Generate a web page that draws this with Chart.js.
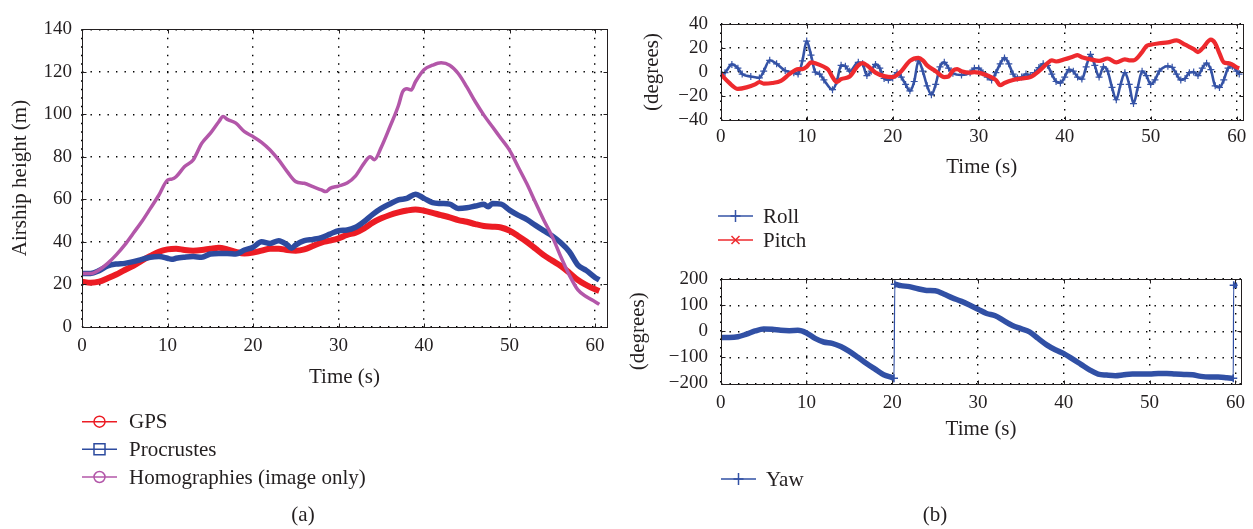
<!DOCTYPE html>
<html><head><meta charset="utf-8">
<script src="https://cdn.jsdelivr.net/npm/chart.js@4.4.1/dist/chart.umd.min.js"></script>
<style>
html,body{margin:0;padding:0;background:#fff;width:1253px;height:529px;overflow:hidden;}
canvas{position:absolute;}
#cA{left:0;top:0;} #cB{left:620px;top:0;} #cY{left:620px;top:255px;}
</style></head><body>
<canvas id="cA" width="620" height="529"></canvas>
<canvas id="cB" width="633" height="255"></canvas>
<canvas id="cY" width="633" height="274"></canvas>
<script>
// ---------- Data: panel (a) airship height ----------
const gpsT = [0,1,2,3,4,5,6,7,8,9,10,11,12,13,14,15,16,17,18,19,20,21,22,23,24,25,26,27,28,29,30,31,32,33,34,35,36,37,38,39,40,41,42,43,44,45,46,47,48,49,50,51,52,53,54,55,56,57,58,59,60,60.5];
const gpsV = [21.2,20.7,21.2,22.8,24.6,26.7,28.6,31.1,33.3,35.3,36.4,36.7,36.1,35.8,36.1,36.7,37.2,36.4,35.2,34.5,34.9,35.8,36.7,36.7,36.1,35.8,36.4,38,39.6,40.5,41.6,43.2,44.3,46.3,49,51,52.6,53.8,54.7,55.2,54.6,53.6,52.5,51.5,50.2,49.4,48.3,47.4,47.1,46.7,45.2,42.7,40,36.9,33.7,31.1,28.6,25.4,22,19.6,17.6,16.8];
const procT = [0,1,2,3,4,5,6,7,8,9,10,10.5,11,12,13,14,15,16,17,18,19,20,21,22,23,24,24.5,25,26,27,28,29,30,31,32,33,34,35,36,37,38,39,40,41,42,43,44,45,46,47,47.5,48,49,50,51,52,53,54,55,56,57,58,59,60,60.5];
const procV = [25.1,25.1,26.4,28.6,29.5,29.8,30.6,31.7,32.7,33,32.2,31.7,32.2,32.7,33,32.7,34.2,34.5,34.5,34.2,36.1,37.4,40,39.2,40.5,38.5,36.9,38.5,40.5,41.1,41.9,43.6,45.2,45.5,46.8,49.5,52.9,55.7,57.8,59.7,60.4,62.4,60.4,58.4,58,57.7,55.7,56,56.8,57.6,56.5,58,57.7,54.9,52.5,50.5,47.8,45.2,42.7,39.5,35.3,29,26.4,23.2,22];
const homT = [0,1,2,3,4,5,6,7,8,9,10,10.5,11,12,13,14,15,16,16.5,17,18,19,20,21,22,23,24,25,26,27,28,28.5,29,30,31,32,33,33.7,34.2,35,36,37,37.5,38,38.5,39,40,41,42,43,44,45,46,47,48,49,50,51,52,53,54,55,56,57,58,59,60,60.5];
const homV = [25,25,26.7,29.8,33.8,38.5,44,49.5,55.7,62,69,69.5,70.6,75.4,78.5,86.3,91,96.5,98.9,97.6,95.8,91.8,89.5,86.8,83.2,78.5,73,68.3,67.5,65.9,64.4,63.6,65.1,66.2,67.6,71,77,80,78.6,84.5,94,104,110.6,112,111.4,115.3,121,123.1,124.2,123.1,119.2,112.9,105.9,99.6,94.1,88.6,83.1,75.3,67.5,58.8,50.2,42.4,32.9,24.3,17.3,14.1,11.8,10.5];

// ---------- Data: panel (b) roll / pitch ----------
const rollT = [0,0.5,1.3,2,2.5,3.5,4.5,5,5.7,6.5,7.5,8.5,9,9.5,10,10.5,11,11.5,12,13,13.5,14,14.5,15,16,16.5,17,17.5,18,18.5,19,19.5,20,20.5,21,21.5,22,22.5,23,23.5,24,24.5,25,25.5,26,26.5,27,28,29,29.5,30,30.5,31,31.5,32,32.5,33,33.5,34,34.5,35,35.5,36,36.5,37,37.5,38,38.5,39,39.5,40,40.5,41,41.5,42,42.5,43,43.5,44,44.5,45,45.5,46,46.5,47,47.5,48,48.5,49,49.5,50,50.5,51,52,52.5,53,53.5,54,54.5,55,55.5,56,56.5,57,57.5,58,58.5,59,59.5,60,60.3];
const rollV = [-1.7,-0.5,6.4,3.2,-1.7,-3.7,-4.9,0.7,9.8,6.9,1.2,-0.5,-1.7,9.3,25.8,14.2,0,-1.7,-6.6,-14.7,-7.9,5.6,4.9,0.7,8.1,6.9,-2.9,0.7,6.4,3.2,-5.4,-6.6,-4.9,-0.5,-4.2,-10.3,-15.7,-7.9,9.3,0.7,-11.5,-18.9,-10.3,4.4,8.1,3.2,-1,-2.5,-0.5,3.2,3.2,-0.5,-4.2,-6.6,-0.5,6.9,11.8,6.9,-1.7,-4.9,-4.2,-1.7,-2.9,-0.5,3.7,6.9,5.6,-1.7,-7.9,-9.1,-4.2,2,0.7,-4.2,-5.9,4.4,14.7,5.6,-4.2,4.4,0.7,-12.8,-23.1,-10.3,-0.5,-10.3,-26.3,-12.8,0.7,-2.9,-10.3,-6.6,0.7,4.9,3.9,-1.7,-6.6,-5.4,-0.5,0,-2.9,3.2,7.4,2,-11.5,-12.8,-6.6,3.2,4.9,0.7,-1.7];
const pitchT = [0,1,2,3,4,4.5,5,6,7,8,9,9.5,10,10.5,11,12,12.5,13,13.5,14,15,16,16.5,17,18,19,20,21,22,23,23.5,24,25,26,26.5,27,27.5,28,29,29.5,30,31,32,32.5,33,34,35,36,37,38,38.5,39,40,41,41.5,42,43,44,45,46,47,47.5,48,49,49.5,50,51,52,53,54,55,55.5,56,57,57.5,58,58.5,59,59.5,60,60.3];
const pitchV = [-1.7,-9.1,-14,-12.8,-10.3,-8.3,-9.6,-9.1,-7.4,-1.7,2.5,2.5,4.4,8.1,7.4,4.4,2,-4.2,-8.3,-5.9,-3.7,5.6,7.4,5.6,-0.5,-3.4,-4.2,0.7,9.3,11.8,9.8,5.6,0.7,-4.2,-3.7,1.2,2.5,0.7,-0.5,0,-0.5,-2.9,-6.6,-11,-9.1,-6.6,-5.4,-4.2,0.7,7.4,9.8,8.8,10.6,13,14.2,12.3,10.6,9.3,11.3,8.1,10.6,9.8,9.8,16.7,21.6,22.8,24,24.8,26.5,22.8,19.1,16.7,19.6,27,24,15.5,8.1,7.4,6.1,3.9,3.2];

// ---------- Data: panel (b) yaw ----------
const yawT = [0,1,2,3,4,5,6,7,8,9,10,11,12,13,14,15,16,17,18,19,20,20.2,20.3,21,22,23,24,25,26,27,28,29,30,31,32,33,34,35,36,37,38,39,40,41,42,43,44,45,46,47,48,49,50,51,52,53,54,55,56,57,58,59,59.75,59.8,60.2];
const yawV = [-23.6,-23.6,-21,-11,1.2,8.7,7.5,3.7,2.5,3.7,-6.2,-27.3,-41,-46,-58.4,-77,-99.4,-123,-145,-166.5,-177.6,-180,180,175,171,163,156.5,155,143,128,115.5,100.6,84.5,68.3,59.6,41,22.4,10,-2.5,-27.3,-52,-70.8,-85.7,-105.6,-126.7,-147.8,-164,-167.7,-170,-166.5,-164,-164,-164,-161.5,-161.5,-164,-165.2,-166.5,-172.7,-175,-175,-177.6,-180,176,176];

// ---------- Tick labels ----------
const timeTicks = [0,10,20,30,40,50,60];
const heightTicks = [0,20,40,60,80,100,120,140];
const attitudeTicks = [-40,-20,0,20,40];
const yawTicks = [-200,-100,0,100,200];

// ---------- Styling ----------
const FONT = "'Liberation Serif','Times New Roman','DejaVu Serif',serif";
const INK = '#231f20';
const TICKFONT = {family: FONT, size: 19, lineHeight: 1.2};
const TITLEFONT = {family: FONT, size: 21, lineHeight: 1.2};
Chart.defaults.font.family = FONT;
const fmt = v => v < 0 ? '\u2212' + Math.abs(v) : String(v);
const pts = (T, V) => T.map((t, i) => ({x: t, y: V[i]}));

const decor = {
  id: 'decor',
  afterDraw(chart, args, o) {
    const {ctx, chartArea: a, scales} = chart;
    ctx.save();
    ctx.strokeStyle = INK; ctx.lineWidth = 1;
    const L = Math.round(a.left) + 0.5, T = Math.round(a.top) + 0.5, R = Math.round(a.right) + 0.5, B = Math.round(a.bottom) + 0.5;
    ctx.strokeRect(L, T, R - L, B - T);
    const tl = 4;
    ctx.beginPath();
    scales.x.ticks.forEach(t => { const px = Math.round(scales.x.getPixelForValue(t.value)) + 0.5;
      ctx.moveTo(px, B); ctx.lineTo(px, B - tl); ctx.moveTo(px, T); ctx.lineTo(px, T + tl); });
    scales.y.ticks.forEach(t => { const py = Math.round(scales.y.getPixelForValue(t.value)) + 0.5;
      ctx.moveTo(L, py); ctx.lineTo(L + tl, py); ctx.moveTo(R, py); ctx.lineTo(R - tl, py); });
    ctx.stroke();
    // legend
    ctx.font = '21px ' + FONT; ctx.textBaseline = 'middle'; ctx.textAlign = 'left';
    (o.legend || []).forEach(it => {
      const ds = chart.data.datasets[it.ds];
      const c = ds.borderColor;
      ctx.strokeStyle = c; ctx.lineWidth = 1.5;
      ctx.beginPath(); ctx.moveTo(it.x0, it.y); ctx.lineTo(it.x1, it.y); ctx.stroke();
      const cx = (it.x0 + it.x1) / 2, cy = it.y;
      ctx.beginPath();
      if (it.marker === 'circle') { ctx.arc(cx, cy, 5.5, 0, Math.PI * 2); }
      else if (it.marker === 'rect') { ctx.rect(cx - 5.5, cy - 5.5, 11, 11); }
      else if (it.marker === 'cross') { ctx.moveTo(cx - 5, cy); ctx.lineTo(cx + 5, cy); ctx.moveTo(cx, cy - 6); ctx.lineTo(cx, cy + 6); }
      else if (it.marker === 'x') { ctx.moveTo(cx - 4, cy - 4); ctx.lineTo(cx + 4, cy + 4); ctx.moveTo(cx + 4, cy - 4); ctx.lineTo(cx - 4, cy + 4); }
      ctx.stroke();
      ctx.fillStyle = INK;
      ctx.fillText(ds.label, it.tx, it.y + 1);
    });
    if (o.caption) {
      ctx.textAlign = 'center'; ctx.fillStyle = INK;
      ctx.fillText(o.caption.text, o.caption.x, o.caption.y);
    }
    ctx.restore();
  }
};

function axes(o) {
  return {
    x: {
      type: 'linear', min: 0, max: o.xMax,
      afterBuildTicks: s => { s.ticks = timeTicks.map(v => ({value: v})); },
      afterFit: s => { s.height = o.xH; },
      grid: {color: '#000', lineWidth: 1.4, drawTicks: false},
      border: {display: false, dash: [1.4, 7.1]},
      ticks: {padding: o.xPad, font: TICKFONT, color: INK, maxRotation: 0, autoSkip: false, callback: fmt},
      title: {display: true, text: 'Time (s)', font: TITLEFONT, color: INK, padding: {top: 0, bottom: 0}}
    },
    y: {
      type: 'linear', min: o.yMin, max: o.yMax,
      afterBuildTicks: s => { s.ticks = o.yTicks.map(v => ({value: v})); },
      afterFit: s => { s.width = o.yW; },
      grid: {color: '#000', lineWidth: 1.4, drawTicks: false},
      border: {display: false, dash: [1.4, 7.1]},
      ticks: {padding: o.yPad, font: TICKFONT, color: INK, autoSkip: false, callback: fmt},
      title: {display: true, text: o.yTitle, font: TITLEFONT, color: INK, padding: {top: o.yTitlePad, bottom: 0}}
    }
  };
}

const common = {
  responsive: false, animation: false, devicePixelRatio: 1, events: [],
};

// ---------- Chart (a) ----------
new Chart(document.getElementById('cA'), {
  type: 'line',
  data: {datasets: [
    {label: 'GPS', data: pts(gpsT, gpsV), borderColor: '#ec1c24', borderWidth: 6, pointRadius: 0, cubicInterpolationMode: 'monotone', order: 3},
    {label: 'Procrustes', data: pts(procT, procV), borderColor: '#2d4b9f', borderWidth: 5.5, pointRadius: 0, cubicInterpolationMode: 'monotone', order: 2},
    {label: 'Homographies (image only)', data: pts(homT, homV), borderColor: '#b357a9', borderWidth: 3.5, pointRadius: 0, cubicInterpolationMode: 'monotone', order: 1}
  ]},
  options: Object.assign({}, common, {
    layout: {autoPadding: false, padding: {left: 0, top: 29.3, right: 13, bottom: 529 - 326.7 - 63}},
    scales: axes({xMax: 61.4, xH: 63, xPad: 8, yMin: 0, yMax: 140, yTicks: heightTicks, yW: 82, yPad: 10, yTitle: 'Airship height (m)', yTitlePad: 7.4}),
    plugins: {legend: {display: false}, tooltip: {enabled: false},
      decor: {legend: [
        {ds: 0, x0: 82, x1: 117, tx: 129, y: 421.7, marker: 'circle'},
        {ds: 1, x0: 82, x1: 117, tx: 129, y: 449.3, marker: 'rect'},
        {ds: 2, x0: 82, x1: 117, tx: 129, y: 477, marker: 'circle'}
      ], caption: {text: '(a)', x: 303, y: 515}}}
  }),
  plugins: [decor]
});

// ---------- Chart (b) roll / pitch ----------
new Chart(document.getElementById('cB'), {
  type: 'line',
  data: {datasets: [
    {label: 'Roll', data: pts(rollT, rollV), borderColor: '#3553a6', borderWidth: 2.6, pointStyle: 'cross', pointRadius: 3.5, pointBorderWidth: 1.2, pointBorderColor: '#3553a6', cubicInterpolationMode: 'monotone', order: 2},
    {label: 'Pitch', data: pts(pitchT, pitchV), borderColor: '#ee2a2e', borderWidth: 4.2, pointRadius: 0, cubicInterpolationMode: 'monotone', order: 1}
  ]},
  options: Object.assign({}, common, {
    layout: {autoPadding: false, padding: {left: 0, top: 12.7, right: 10.3, bottom: 255 - 120 - 59.6}},
    scales: axes({xMax: 60.7, xH: 59.6, xPad: 6, yMin: -40, yMax: 40, yTicks: attitudeTicks, yW: 100.7, yPad: 12.7, yTitle: '(degrees)', yTitlePad: 19.4}),
    plugins: {legend: {display: false}, tooltip: {enabled: false},
      decor: {legend: [
        {ds: 0, x0: 98, x1: 133, tx: 143, y: 216, marker: 'cross'},
        {ds: 1, x0: 98, x1: 133, tx: 143, y: 240, marker: 'x'}
      ]}}
  }),
  plugins: [decor]
});

// ---------- Chart (b) yaw ----------
const jumpAt = k => k >= 0 && k < yawV.length - 1 && Math.abs(yawV[k + 1] - yawV[k]) > 200;
new Chart(document.getElementById('cY'), {
  type: 'line',
  data: {datasets: [
    {label: 'Yaw', data: pts(yawT, yawV), borderColor: '#3150a5', borderWidth: 5.5, pointStyle: 'cross',
      pointRadius: c => (jumpAt(c.dataIndex) || jumpAt(c.dataIndex - 1)) ? 4 : 0, pointBorderWidth: 1.5, pointBorderColor: '#3150a5',
      cubicInterpolationMode: 'monotone',
      segment: {borderWidth: c => Math.abs(c.p1.parsed.y - c.p0.parsed.y) > 200 ? 1.2 : 5.5}}
  ]},
  options: Object.assign({}, common, {
    layout: {autoPadding: false, padding: {left: 0, top: 20.7, right: 10.3, bottom: 274 - 128.5 - 58.1}},
    scales: axes({xMax: 60.7, xH: 58.1, xPad: 8, yMin: -200, yMax: 200, yTicks: yawTicks, yW: 100.7, yPad: 12.7, yTitle: '(degrees)', yTitlePad: 5.4}),
    plugins: {legend: {display: false}, tooltip: {enabled: false},
      decor: {legend: [
        {ds: 0, x0: 101, x1: 136, tx: 146, y: 224, marker: 'cross'}
      ], caption: {text: '(b)', x: 315, y: 260}}}
  }),
  plugins: [decor]
});
</script>
</body></html>
